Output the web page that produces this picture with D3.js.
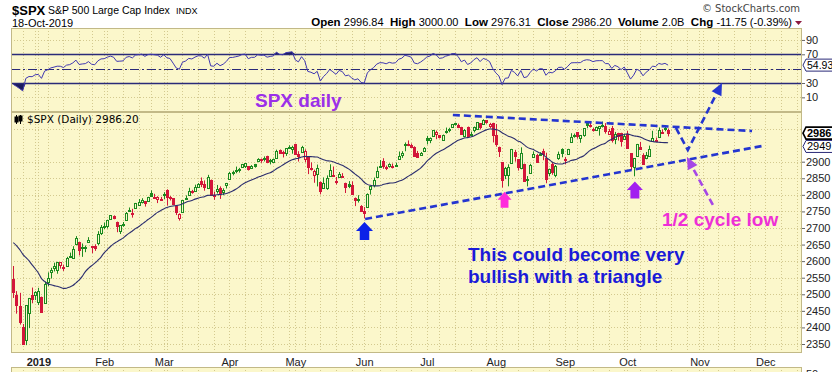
<!DOCTYPE html>
<html>
<head>
<meta charset="utf-8">
<script src="https://cdn.jsdelivr.net/npm/d3@7"></script>
<style>
body { margin: 0; background: #fff; }
svg { display: block; font-family: "Liberation Sans", Arial, sans-serif; }
</style>
</head>
<body>
<svg width="832" height="372"></svg>
<script>
// Daily candles, 19-Dec-2018 .. 18-Oct-2019
const days = [
  "2018-12-19","2018-12-20","2018-12-21","2018-12-24","2018-12-26","2018-12-27","2018-12-28","2018-12-31",
  "2019-01-02","2019-01-03","2019-01-04","2019-01-07","2019-01-08","2019-01-09","2019-01-10","2019-01-11","2019-01-14","2019-01-15","2019-01-16","2019-01-17","2019-01-18","2019-01-22","2019-01-23","2019-01-24","2019-01-25","2019-01-28","2019-01-29","2019-01-30","2019-01-31",
  "2019-02-01","2019-02-04","2019-02-05","2019-02-06","2019-02-07","2019-02-08","2019-02-11","2019-02-12","2019-02-13","2019-02-14","2019-02-15","2019-02-19","2019-02-20","2019-02-21","2019-02-22","2019-02-25","2019-02-26","2019-02-27","2019-02-28",
  "2019-03-01","2019-03-04","2019-03-05","2019-03-06","2019-03-07","2019-03-08","2019-03-11","2019-03-12","2019-03-13","2019-03-14","2019-03-15","2019-03-18","2019-03-19","2019-03-20","2019-03-21","2019-03-22","2019-03-25","2019-03-26","2019-03-27","2019-03-28","2019-03-29",
  "2019-04-01","2019-04-02","2019-04-03","2019-04-04","2019-04-05","2019-04-08","2019-04-09","2019-04-10","2019-04-11","2019-04-12","2019-04-15","2019-04-16","2019-04-17","2019-04-18","2019-04-22","2019-04-23","2019-04-24","2019-04-25","2019-04-26","2019-04-29","2019-04-30",
  "2019-05-01","2019-05-02","2019-05-03","2019-05-06","2019-05-07","2019-05-08","2019-05-09","2019-05-10","2019-05-13","2019-05-14","2019-05-15","2019-05-16","2019-05-17","2019-05-20","2019-05-21","2019-05-22","2019-05-23","2019-05-24","2019-05-28","2019-05-29","2019-05-30","2019-05-31",
  "2019-06-03","2019-06-04","2019-06-05","2019-06-06","2019-06-07","2019-06-10","2019-06-11","2019-06-12","2019-06-13","2019-06-14","2019-06-17","2019-06-18","2019-06-19","2019-06-20","2019-06-21","2019-06-24","2019-06-25","2019-06-26","2019-06-27","2019-06-28",
  "2019-07-01","2019-07-02","2019-07-03","2019-07-05","2019-07-08","2019-07-09","2019-07-10","2019-07-11","2019-07-12","2019-07-15","2019-07-16","2019-07-17","2019-07-18","2019-07-19","2019-07-22","2019-07-23","2019-07-24","2019-07-25","2019-07-26","2019-07-29","2019-07-30","2019-07-31",
  "2019-08-01","2019-08-02","2019-08-05","2019-08-06","2019-08-07","2019-08-08","2019-08-09","2019-08-12","2019-08-13","2019-08-14","2019-08-15","2019-08-16","2019-08-19","2019-08-20","2019-08-21","2019-08-22","2019-08-23","2019-08-26","2019-08-27","2019-08-28","2019-08-29","2019-08-30",
  "2019-09-03","2019-09-04","2019-09-05","2019-09-06","2019-09-09","2019-09-10","2019-09-11","2019-09-12","2019-09-13","2019-09-16","2019-09-17","2019-09-18","2019-09-19","2019-09-20","2019-09-23","2019-09-24","2019-09-25","2019-09-26","2019-09-27","2019-09-30",
  "2019-10-01","2019-10-02","2019-10-03","2019-10-04","2019-10-07","2019-10-08","2019-10-09","2019-10-10","2019-10-11","2019-10-14","2019-10-15","2019-10-16","2019-10-17","2019-10-18"
];
const open = [
  2547.05,2496.77,2465.38,2400.56,2363.12,2442.50,2498.77,2498.94,
  2476.96,2491.92,2474.33,2535.61,2568.11,2580.00,2573.51,2588.11,2580.31,2585.10,2614.75,2609.28,2651.27,2657.88,2643.48,2638.84,2657.44,2644.97,2644.89,2653.62,2685.49,
  2702.32,2706.49,2728.34,2735.05,2717.53,2692.36,2712.40,2722.61,2750.30,2743.50,2760.24,2769.28,2779.05,2780.67,2780.67,2804.35,2792.36,2787.50,2788.11,
  2798.22,2814.37,2794.41,2790.27,2766.53,2730.79,2747.61,2787.34,2799.78,2810.38,2810.79,2822.61,2840.76,2831.34,2819.72,2844.52,2796.01,2812.66,2819.72,2809.40,2828.27,
  2848.63,2868.24,2876.09,2873.99,2884.16,2888.46,2886.58,2881.37,2891.92,2900.86,2908.32,2912.26,2916.04,2904.81,2898.78,2909.99,2934.00,2928.99,2925.81,2940.58,2937.14,
  2952.33,2922.16,2929.21,2908.89,2913.03,2879.61,2859.84,2863.10,2840.19,2820.12,2820.38,2855.80,2858.60,2841.94,2854.02,2856.06,2836.70,2832.41,2830.03,2790.25,2786.94,2766.15,
  2751.53,2762.64,2818.09,2828.51,2852.87,2885.83,2903.27,2882.73,2886.24,2886.82,2889.75,2906.71,2920.55,2949.60,2952.71,2951.42,2945.78,2926.07,2919.66,2932.94,
  2971.41,2964.66,2978.08,2984.25,2979.77,2965.52,2989.30,2999.62,3003.36,3017.80,3012.13,3005.10,2978.87,3004.26,2981.93,2994.74,2998.77,3016.26,3013.25,3024.47,3007.66,3016.22,
  2980.32,2943.90,2898.07,2861.18,2858.65,2896.21,2930.51,2907.07,2880.72,2894.15,2846.20,2864.74,2913.48,2919.01,2922.04,2930.94,2911.07,2866.70,2893.14,2861.28,2910.37,2937.09,
  2909.01,2924.67,2960.60,2980.33,2988.43,2971.01,2981.41,3018.21,3012.21,2996.41,2995.67,3001.50,3010.36,3008.42,2983.50,3002.43,2968.35,2985.73,2985.47,2967.07,
  2983.69,2924.78,2885.38,2918.56,2944.23,2920.40,2911.10,2918.55,2963.07,2965.81,2973.61,2989.68,3000.77,2996.84
];
const high = [
  2585.29,2509.63,2504.41,2410.34,2467.76,2489.10,2520.27,2509.24,
  2519.49,2493.14,2538.07,2566.16,2579.82,2595.32,2597.82,2596.27,2589.32,2613.08,2625.76,2645.06,2675.47,2657.88,2653.19,2647.20,2672.38,2644.97,2650.93,2690.44,2708.95,
  2716.66,2724.99,2738.98,2738.08,2719.32,2708.07,2718.05,2748.19,2761.85,2757.90,2775.66,2787.33,2789.88,2781.58,2794.20,2813.49,2803.12,2795.76,2793.73,
  2808.02,2816.88,2796.44,2790.27,2767.25,2744.13,2784.00,2798.32,2821.24,2815.00,2830.73,2835.41,2852.42,2843.54,2860.31,2846.16,2809.79,2829.87,2825.56,2819.71,2836.03,
  2869.40,2872.90,2885.25,2881.28,2893.24,2895.95,2886.88,2889.71,2893.42,2910.54,2909.60,2916.06,2918.00,2908.40,2909.51,2936.31,2936.83,2933.10,2939.88,2949.52,2948.22,
  2954.13,2931.68,2947.85,2937.32,2913.03,2897.96,2875.97,2891.31,2840.19,2852.54,2858.68,2892.15,2885.48,2853.86,2868.88,2865.47,2836.70,2841.36,2840.51,2792.03,2799.00,2768.98,
  2763.07,2804.49,2827.28,2852.10,2884.97,2904.77,2910.61,2888.57,2895.24,2894.45,2897.27,2930.79,2931.74,2958.06,2964.15,2954.92,2946.52,2932.59,2929.30,2943.98,
  2977.93,2973.21,2995.84,2994.03,2980.76,2981.90,3002.98,3002.33,3013.92,3017.80,3015.02,3005.26,2998.28,3006.02,2990.71,3005.90,3019.59,3016.31,3027.98,3025.61,3017.19,3017.40,
  3013.59,2945.50,2898.07,2884.40,2892.17,2938.72,2935.75,2907.58,2943.31,2894.15,2856.67,2893.63,2931.00,2923.63,2928.73,2939.08,2927.01,2879.27,2898.79,2890.03,2930.50,2940.43,
  2914.39,2938.84,2985.86,2985.03,2989.43,2979.39,3000.93,3020.74,3017.33,3002.19,3006.21,3007.83,3021.19,3016.37,2999.15,3007.98,2989.82,2987.28,2987.31,2983.85,
  2992.53,2924.78,2911.13,2953.74,2959.75,2925.47,2929.32,2948.46,2993.28,2972.84,3003.28,2997.54,3008.29,3000.00
];
const low = [
  2488.96,2441.53,2408.55,2351.10,2346.58,2397.94,2472.89,2482.82,
  2467.47,2443.96,2474.33,2524.56,2547.56,2568.89,2562.02,2577.40,2570.41,2585.10,2612.68,2606.36,2647.58,2617.27,2612.86,2627.01,2657.33,2624.06,2631.05,2648.34,2678.65,
  2696.88,2698.75,2724.03,2726.27,2687.26,2681.83,2703.79,2722.61,2748.63,2731.23,2760.24,2767.29,2774.06,2764.55,2779.11,2794.99,2789.47,2775.13,2782.51,
  2787.38,2767.66,2782.97,2768.69,2739.09,2722.27,2747.61,2786.73,2799.78,2803.46,2810.79,2821.99,2823.27,2812.43,2817.38,2800.47,2785.02,2803.99,2787.72,2798.77,2819.23,
  2848.63,2858.75,2865.17,2867.14,2882.99,2880.78,2873.33,2879.13,2881.99,2898.37,2896.48,2900.71,2895.45,2891.90,2896.35,2908.53,2926.05,2912.84,2917.56,2939.35,2924.11,
  2923.36,2900.50,2929.21,2898.21,2862.60,2873.28,2836.40,2825.39,2801.43,2820.12,2815.08,2855.80,2854.23,2831.29,2854.02,2851.11,2805.49,2820.19,2801.58,2766.06,2776.74,2750.52,
  2728.81,2762.64,2800.92,2822.45,2852.87,2885.51,2878.53,2874.68,2881.99,2879.62,2887.30,2905.44,2911.43,2931.50,2946.87,2944.05,2916.01,2912.99,2918.57,2929.05,
  2952.22,2955.92,2977.96,2967.97,2970.09,2963.44,2984.62,2988.80,3001.87,3008.77,3001.15,2984.25,2973.09,2975.86,2976.65,2988.56,2996.82,2997.24,3012.59,3014.30,3000.94,2958.08,
  2945.23,2914.11,2822.12,2847.42,2825.71,2894.47,2900.15,2873.14,2877.05,2839.64,2825.51,2864.74,2913.48,2899.60,2917.91,2904.51,2834.97,2856.00,2860.59,2853.05,2905.67,2913.32,
  2891.85,2921.86,2960.60,2972.51,2969.39,2957.01,2975.31,3000.92,3002.90,2990.67,2993.73,2978.57,3003.16,2984.68,2982.23,2957.73,2952.86,2963.71,2945.53,2967.07,
  2938.70,2874.93,2855.94,2918.56,2935.68,2892.66,2907.41,2917.12,2963.07,2962.94,2973.61,2985.20,2991.79,2976.31
];
const close = [
  2506.96,2467.42,2416.62,2351.10,2467.70,2488.83,2485.74,2506.85,
  2510.03,2447.89,2531.94,2549.69,2574.41,2584.96,2596.64,2596.26,2582.61,2610.30,2616.10,2635.96,2670.71,2632.90,2638.70,2642.33,2664.76,2643.85,2640.00,2681.05,2704.10,
  2706.53,2724.87,2737.70,2731.61,2706.05,2707.88,2709.80,2744.73,2753.03,2745.73,2775.60,2779.76,2784.70,2774.88,2792.67,2796.11,2793.90,2792.38,2784.49,
  2803.69,2792.81,2789.65,2771.45,2748.93,2743.07,2783.30,2791.52,2810.92,2808.48,2822.48,2832.94,2832.57,2824.23,2854.88,2800.71,2798.36,2818.46,2805.37,2815.44,2834.40,
  2867.19,2867.24,2873.40,2879.39,2892.74,2895.77,2878.20,2888.21,2888.32,2907.41,2905.58,2907.06,2900.45,2905.03,2907.97,2933.68,2927.25,2926.17,2939.88,2943.03,2945.83,
  2923.73,2917.52,2945.64,2932.47,2884.05,2879.42,2870.72,2881.40,2811.87,2834.41,2850.96,2876.32,2859.53,2840.23,2864.36,2856.27,2822.24,2826.06,2802.39,2783.02,2788.86,2752.06,
  2744.45,2803.27,2826.15,2843.49,2873.34,2886.73,2885.72,2879.84,2891.64,2886.98,2889.67,2917.75,2926.46,2954.18,2950.46,2945.35,2917.38,2913.78,2924.92,2941.76,
  2964.33,2973.01,2995.82,2990.41,2975.95,2979.63,2993.07,2999.91,3013.77,3014.30,3004.04,2984.42,2995.11,2976.61,2985.03,3005.47,3019.56,3003.67,3025.86,3020.97,3013.18,2980.38,
  2953.56,2932.05,2844.74,2881.77,2883.98,2938.09,2918.65,2882.70,2926.32,2840.60,2847.60,2888.68,2923.65,2900.51,2924.43,2922.95,2847.11,2878.38,2869.16,2887.94,2924.58,2926.46,
  2906.27,2937.78,2976.00,2978.71,2978.43,2979.39,3000.93,3009.57,3007.39,2997.96,3005.70,3006.73,3006.79,2992.07,2991.78,2966.60,2984.87,2977.62,2961.79,2976.74,
  2940.25,2887.61,2910.63,2952.01,2938.79,2893.06,2919.40,2938.13,2970.27,2966.15,2995.68,2989.69,2997.95,2986.20
];
// closes before the visible window (Oct-Dec 2018), used to warm up the SMA and RSI
const warmClose = [
  2924.59,2923.43,2925.51,2901.61,2885.57,2884.43,2880.34,2785.68,2728.37,2767.13,2750.79,2809.92,2809.21,2768.78,2767.78,
  2755.88,2740.69,2656.10,2705.57,2658.69,2641.25,2682.63,2711.74,
  2740.37,2723.06,2738.31,2755.45,2813.89,2806.83,2781.01,2726.22,2722.18,2701.58,2730.20,2736.27,2690.73,2641.89,2649.93,
  2632.56,2673.45,2682.17,2743.79,2737.80,2760.17,
  2790.37,2700.06,2695.95,2633.08,2637.72,2636.78,2651.07,2650.54,2599.95,2545.94,2546.16
];

const monthLabels = ["2019","Feb","Mar","Apr","May","Jun","Jul","Aug","Sep","Oct","Nov","Dec"];
const priceTicks = [2350,2400,2450,2500,2550,2600,2650,2700,2750,2800,2850,2900];
const rsiTicks = [90,70,30,10];
const lastRsiText = "54.93";
const lastSmaText = "2949.04";
const headerVals = [["Open ","2996.84"],["High ","3000.00"],["Low ","2976.31"],["Close ","2986.20"],["Volume ","2.0B"],["Chg ","-11.75 (-0.39%)"]];

// annotations in (bar index, price)
const lowerTrend = [[112.3, 2727], [239.4, 2948]];
const upperTrend = [[140.3, 3041], [235.8, 2992.6]];
const projection = [[211.5, 3001.7], [215.3, 2935.3], [226.2, 3137.4]];
const cycleArrow = [[223.3, 2769.4], [215.0, 2914]];
const blockArrows = [
  {i: 112.1, p: 2718, w: 17, h: 18, color: "#0b22e8"},
  {i: 156.8, p: 2809, w: 14, h: 16, color: "#ff2bdc"},
  {i: 198.4, p: 2840, w: 16, h: 17, color: "#a21ff0"}
];

const svg = d3.select("svg");
const L = 11, R = 802;
const rsiTop = 28, mainTop = 112, mainBot = 353, volTop = 367;
const bg = "#fbf7cb", gridC = "#d3c98f", borderC = "#c2b987";
const upC = "#1b8a1f", downC = "#d3163a";

const x = d3.scaleLinear().domain([0, 209]).range([13.3, 668.1]);
const yP = d3.scaleLinear().domain([2350, 2900]).range([344, 161.7]);
const yR = d3.scaleLinear().domain([30, 70]).range([83, 54.3]);

// indicators
const allClose = warmClose.concat(close);
const off = warmClose.length;
const rsiAll = [];
let ag = 0, al = 0;
for (let k = 1; k < allClose.length; k++) {
  const ch = allClose[k] - allClose[k - 1];
  const g = Math.max(ch, 0), l = Math.max(-ch, 0);
  if (k <= 14) { ag += g / 14; al += l / 14; if (k === 14) rsiAll[k] = 100 - 100 / (1 + ag / al); }
  else { ag = (ag * 13 + g) / 14; al = (al * 13 + l) / 14; rsiAll[k] = 100 - 100 / (1 + ag / al); }
}
const rsi = close.map((c, i) => rsiAll[i + off]);
const sma = close.map((c, i) => d3.mean(allClose.slice(i + off - 19, i + off + 1)));

// calendar for the axis (future bars are weekdays)
const parse = d3.timeParse("%Y-%m-%d");
const axisDates = days.map(parse);
let dd = axisDates[axisDates.length - 1];
while (axisDates.length < 256) {
  dd = d3.timeDay.offset(dd, 1);
  if (dd.getDay() % 6 !== 0) axisDates.push(dd);
}
const monthStarts = [], weekStarts = [];
axisDates.forEach((d, i) => {
  if (i === 0) return;
  if (d.getMonth() !== axisDates[i - 1].getMonth()) monthStarts.push(i);
  else if (+d3.timeMonday.floor(d) !== +d3.timeMonday.floor(axisDates[i - 1])) weekStarts.push(i);
});
const gridIdx = monthStarts.concat(weekStarts).filter(i => x(i) > L + 1 && x(i) < R - 1);

// panels
function panel(y0, y1) {
  const g = svg.append("g");
  g.append("rect").attr("x", L).attr("y", y0).attr("width", R - L).attr("height", y1 - y0).attr("fill", bg);
  g.selectAll(".v").data(gridIdx).join("line")
    .attr("x1", i => Math.round(x(i)) + 0.5).attr("x2", i => Math.round(x(i)) + 0.5)
    .attr("y1", y0).attr("y2", y1)
    .attr("stroke", gridC).attr("stroke-dasharray", "1,2");
  return g;
}
const rsiG = panel(rsiTop, mainTop);
const mainG = panel(mainTop, mainBot);
const volG = panel(volTop, 390);

mainG.selectAll(".h").data(priceTicks.concat([3000])).join("line")
  .attr("x1", L).attr("x2", R)
  .attr("y1", p => Math.round(yP(p)) + 0.5).attr("y2", p => Math.round(yP(p)) + 0.5)
  .attr("stroke", gridC).attr("stroke-dasharray", "1,2");
rsiG.selectAll(".h").data([10, 50, 90]).join("line")
  .attr("x1", L).attr("x2", R)
  .attr("y1", v => Math.round(yR(v)) + 0.5).attr("y2", v => Math.round(yR(v)) + 0.5)
  .attr("stroke", gridC).attr("stroke-dasharray", "1,2");

// RSI panel
const rsiIdx = d3.range(rsi.length);
const fillC = "#1c1c5c";
rsiG.append("path").datum(rsiIdx)
  .attr("d", d3.area().x(i => x(i)).y0(yR(30)).y1(i => yR(Math.min(rsi[i], 30))))
  .attr("fill", fillC);
rsiG.append("path").datum(rsiIdx)
  .attr("d", d3.area().x(i => x(i)).y0(yR(70)).y1(i => yR(Math.max(rsi[i], 70))))
  .attr("fill", fillC);
[70, 30].forEach(v => rsiG.append("line").attr("x1", L).attr("x2", R)
  .attr("y1", Math.round(yR(v)) + 0.5).attr("y2", Math.round(yR(v)) + 0.5)
  .attr("stroke", "#2a2a78").attr("stroke-width", 1.3));
rsiG.append("line").attr("x1", L).attr("x2", R)
  .attr("y1", Math.round(yR(50)) + 0.5).attr("y2", Math.round(yR(50)) + 0.5)
  .attr("stroke", "#2a2a78").attr("stroke-width", 1.2).attr("stroke-dasharray", "9,3,2,3");
rsiG.append("path").datum(rsiIdx)
  .attr("d", d3.line().x(i => x(i)).y(i => yR(rsi[i])))
  .attr("fill", "none").attr("stroke", "#4038b0").attr("stroke-width", 1);

// candles
const cg = mainG.append("g");
close.forEach((c, i) => {
  const o = open[i];
  const prev = allClose[i + off - 1];
  const col = c >= prev ? upC : downC;
  const cx = Math.round(x(i));
  cg.append("line").attr("x1", cx + 0.5).attr("x2", cx + 0.5)
    .attr("y1", yP(high[i])).attr("y2", yP(low[i])).attr("stroke", col);
  const top = Math.round(yP(Math.max(o, c))), bot = Math.round(yP(Math.min(o, c)));
  cg.append("rect").attr("x", cx - 0.5).attr("width", 2)
    .attr("y", top + 0.5).attr("height", Math.max(1, bot - top))
    .attr("fill", c > o ? bg : col).attr("stroke", col).attr("stroke-width", 1);
});

// 20-day SMA
mainG.append("path").datum(rsiIdx)
  .attr("d", d3.line().curve(d3.curveMonotoneX).x(i => x(i)).y(i => yP(sma[i])))
  .attr("fill", "none").attr("stroke", "#2b2d6e").attr("stroke-width", 1.1);

// borders
[[rsiTop, mainTop], [mainTop, mainBot], [volTop, 390]].forEach(([a, b]) =>
  svg.append("rect").attr("x", L + 0.5).attr("y", a + 0.5).attr("width", R - L - 1).attr("height", b - a - 1)
    .attr("fill", "none").attr("stroke", borderC));

// axes
const yAxis = svg.append("g").attr("transform", `translate(${R},0)`)
  .call(d3.axisRight(yP).tickValues(priceTicks).tickSize(3).tickPadding(1).tickFormat(d3.format("d")));
const rAxis = svg.append("g").attr("transform", `translate(${R},0)`)
  .call(d3.axisRight(yR).tickValues(rsiTicks).tickSize(3).tickPadding(1));
const xAxis = svg.append("g").attr("transform", `translate(0,${mainBot})`)
  .call(d3.axisBottom(x).tickValues(monthStarts).tickSize(0).tickPadding(5)
    .tickFormat((d, k) => monthLabels[k]));
[yAxis, rAxis, xAxis].forEach(a => {
  a.select(".domain").remove();
  a.selectAll("text").attr("font-family", "Liberation Sans, Arial, sans-serif").attr("font-size", 11).attr("fill", "#222");
  a.selectAll("line").attr("stroke", "#666");
});
xAxis.selectAll("text").attr("dy", "0.71em").attr("font-weight", (d, k) => k === 0 ? "bold" : null);
svg.append("text").attr("x", R + 4).attr("y", 378).attr("font-size", 11).attr("fill", "#222").text("50");

// value flags on the right
function flag(yv, txt, stroke, bold, fs) {
  const g = svg.append("g");
  g.append("path").attr("d", `M${R + 1},${yv} L${R + 4},${yv - 6} L840,${yv - 6} L840,${yv + 6} L${R + 4},${yv + 6} Z`)
    .attr("fill", "#fff").attr("stroke", stroke).attr("stroke-width", bold ? 1.6 : 1);
  g.append("text").attr("x", R + 5).attr("y", yv + 4).attr("font-size", fs)
    .attr("font-weight", bold ? "bold" : null).attr("fill", "#000").text(txt);
}
flag(yR(+lastRsiText), lastRsiText, "#2a2a78", false, 10.5);
flag(yP(2986.2), "2986.20", "#000", true, 11);
flag(yP(+lastSmaText) + 1, lastSmaText, "#2a2a78", false, 11);

// header
svg.append("text").attr("x", 12).attr("y", 15).attr("font-size", 13).attr("font-weight", "bold").text("$SPX");
svg.append("text").attr("x", 48).attr("y", 14).attr("font-size", 10.5).text("S&P 500 Large Cap Index");
svg.append("text").attr("x", 176).attr("y", 14).attr("font-size", 9).text("INDX");
svg.append("text").attr("x", 12).attr("y", 27).attr("font-size", 11).text("18-Oct-2019");
svg.append("text").attr("x", 800).attr("y", 12).attr("font-size", 10).attr("fill", "#444")
  .attr("text-anchor", "end").attr("font-family", "DejaVu Sans, sans-serif").text("\u00a9 StockCharts.com");
const hdr = svg.append("text").attr("x", 792).attr("y", 26).attr("text-anchor", "end").attr("font-size", 11)
  .attr("xml:space", "preserve");
headerVals.forEach(([k, v], n) => {
  hdr.append("tspan").attr("font-weight", "bold").attr("font-size", 11.5).text((n ? "  " : "") + k);
  hdr.append("tspan").text(v);
});
svg.append("path").attr("d", "M795,21 L802,21 L798.5,25 Z").attr("fill", "#8b1a40");

// series label
const ic = svg.append("g").attr("stroke", "#000").attr("fill", "#000");
ic.append("line").attr("x1", 16.5).attr("x2", 16.5).attr("y1", 115).attr("y2", 124);
ic.append("rect").attr("x", 15).attr("y", 117).attr("width", 3).attr("height", 5);
ic.append("line").attr("x1", 20.5).attr("x2", 20.5).attr("y1", 115).attr("y2", 124);
ic.append("rect").attr("x", 19).attr("y", 116).attr("width", 3).attr("height", 5);
svg.append("text").attr("x", 27).attr("y", 123).attr("font-family", "DejaVu Sans, sans-serif")
  .attr("font-size", 10.5).text("$SPX (Daily) 2986.20");

// annotations
const pt = d => [x(d[0]), yP(d[1])];
const dashBlue = "#2435d0";
const ann = svg.append("g");
[lowerTrend, upperTrend].forEach(seg => ann.append("path")
  .attr("d", d3.line()(seg.map(pt))).attr("fill", "none")
  .attr("stroke", dashBlue).attr("stroke-width", 2.6).attr("stroke-dasharray", "7,4"));

function arrowLine(points, color) {
  const px = points.map(pt);
  const a = px[px.length - 2], b = px[px.length - 1];
  const dx = b[0] - a[0], dy = b[1] - a[1], len = Math.hypot(dx, dy);
  const ux = dx / len, uy = dy / len, hl = 12, hw = 5.5;
  const base = [b[0] - ux * hl, b[1] - uy * hl];
  const line = px.slice(0, -1).concat([base]);
  ann.append("path").attr("d", d3.line()(line)).attr("fill", "none")
    .attr("stroke", color).attr("stroke-width", 2.6).attr("stroke-dasharray", "7,4");
  ann.append("path").attr("d", d3.line()([b, [base[0] - uy * hw, base[1] + ux * hw], [base[0] + uy * hw, base[1] - ux * hw]]) + "Z")
    .attr("fill", color);
}
arrowLine(projection, dashBlue);
arrowLine(cycleArrow, "#a646e6");

blockArrows.forEach(a => {
  const tx = x(a.i), ty = yP(a.p), w = a.w, h = a.h, hh = h * 0.5, sw = w * 0.28;
  ann.append("path").attr("fill", a.color).attr("d",
    `M${tx},${ty} L${tx + w / 2},${ty + hh} L${tx + sw},${ty + hh} L${tx + sw},${ty + h} ` +
    `L${tx - sw},${ty + h} L${tx - sw},${ty + hh} L${tx - w / 2},${ty + hh} Z`);
});

const note = (tx, ty, s, col) => svg.append("text").attr("x", tx).attr("y", ty)
  .attr("font-size", 19).attr("font-weight", "bold").attr("fill", col).text(s);
note(255, 107, "SPX daily", "#9b30e8");
note(662, 226, "1/2 cycle low", "#ee2fd6");
note(468, 261, "This could become very", "#1b1bd8");
note(468, 283, "bullish with a triangle", "#1b1bd8");
</script>
</body>
</html>
